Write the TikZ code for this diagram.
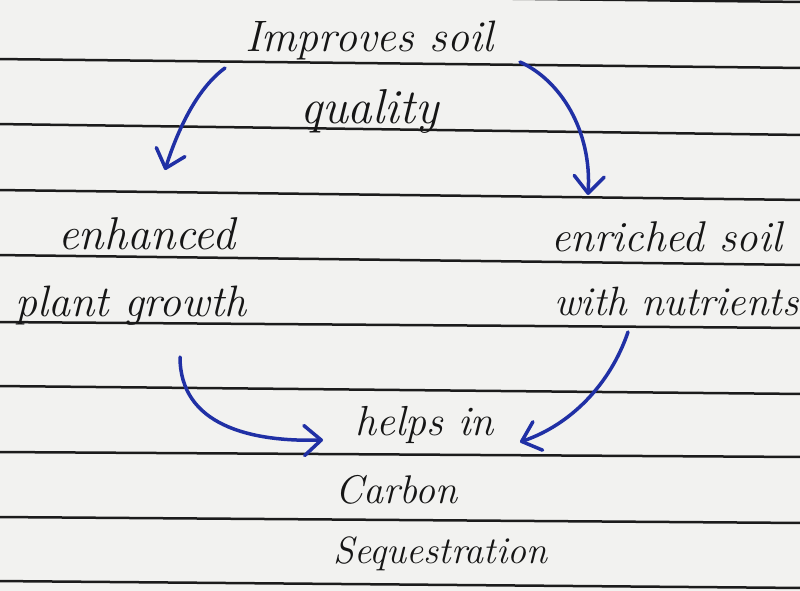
\documentclass[tikz,border=0pt]{standalone}
\usetikzlibrary{arrows.meta}
\definecolor{paper}{RGB}{242,242,240}
\definecolor{rule}{RGB}{28,28,28}
\definecolor{ink}{RGB}{22,22,22}
\definecolor{inkblue}{RGB}{32,48,165}
\begin{document}
\begin{tikzpicture}[x=1pt,y=-1pt,
  paperline/.style={draw=rule,line width=2.5pt},
  hand/.style={text=ink,inner sep=0pt,anchor=base west,
    font=\fontsize{#1}{#1}\selectfont\itshape},
  flow/.style={draw=inkblue,line width=3.5pt,line cap=round,
    -{Straight Barb[length=17pt,width=30pt,line cap=round,line join=round]}}]
\useasboundingbox (0,0) rectangle (800,591);
\fill[paper] (0,0) rectangle (800,591);
% ruled lines of the paper
\draw[paperline] (-5,-7) -- (805,2);
\draw[paperline] (-5,59) -- (805,68);
\draw[paperline] (-5,124) -- (805,135);
\draw[paperline] (-5,190) -- (805,200);
\draw[paperline] (-5,255) -- (805,265);
\draw[paperline] (-5,322) -- (805,328);
\draw[paperline] (-5,386) -- (805,394);
\draw[paperline] (-5,452) -- (805,457);
\draw[paperline] (-5,517) -- (805,523);
\draw[paperline] (-5,581) -- (805,588);
% texts
\node[hand=44] (t1) at (245,52) {Improves soil};
\node[hand=49] (t2) at (300,124) {quality};
\node[hand=46] (l1) at (58,249) {enhanced};
\node[hand=44] (l2) at (15,316) {plant growth};
\node[hand=43] (r1) at (551,251) {enriched soil};
\node[hand=41] (r2) at (554,315) {with nutrients};
\node[hand=42] (b1) at (355,435) {helps in};
\node[hand=40] (b2) at (335,503) {Carbon};
\node[hand=38] (b3) at (333,563) {Sequestration};
% arrow end points
\coordinate (a1s) at (225,68);
\coordinate (a1e) at (165,170);
\coordinate (a2s) at (520,62);
\coordinate (a2e) at (588,195);
\coordinate (a3s) at (180,357);
\coordinate (a3e) at (323,440);
\coordinate (a4s) at (628,332);
\coordinate (a4e) at (520,442);
\draw[flow] (a1s) .. controls (195,90) and (176,135) .. (a1e);
\draw[flow] (a2s) .. controls (560,80) and (592,130) .. (a2e);
\draw[flow] (a3s) .. controls (180,425) and (250,442) .. (a3e);
\draw[flow] (a4s) .. controls (610,385) and (570,425) .. (a4e);
\end{tikzpicture}
\end{document}
